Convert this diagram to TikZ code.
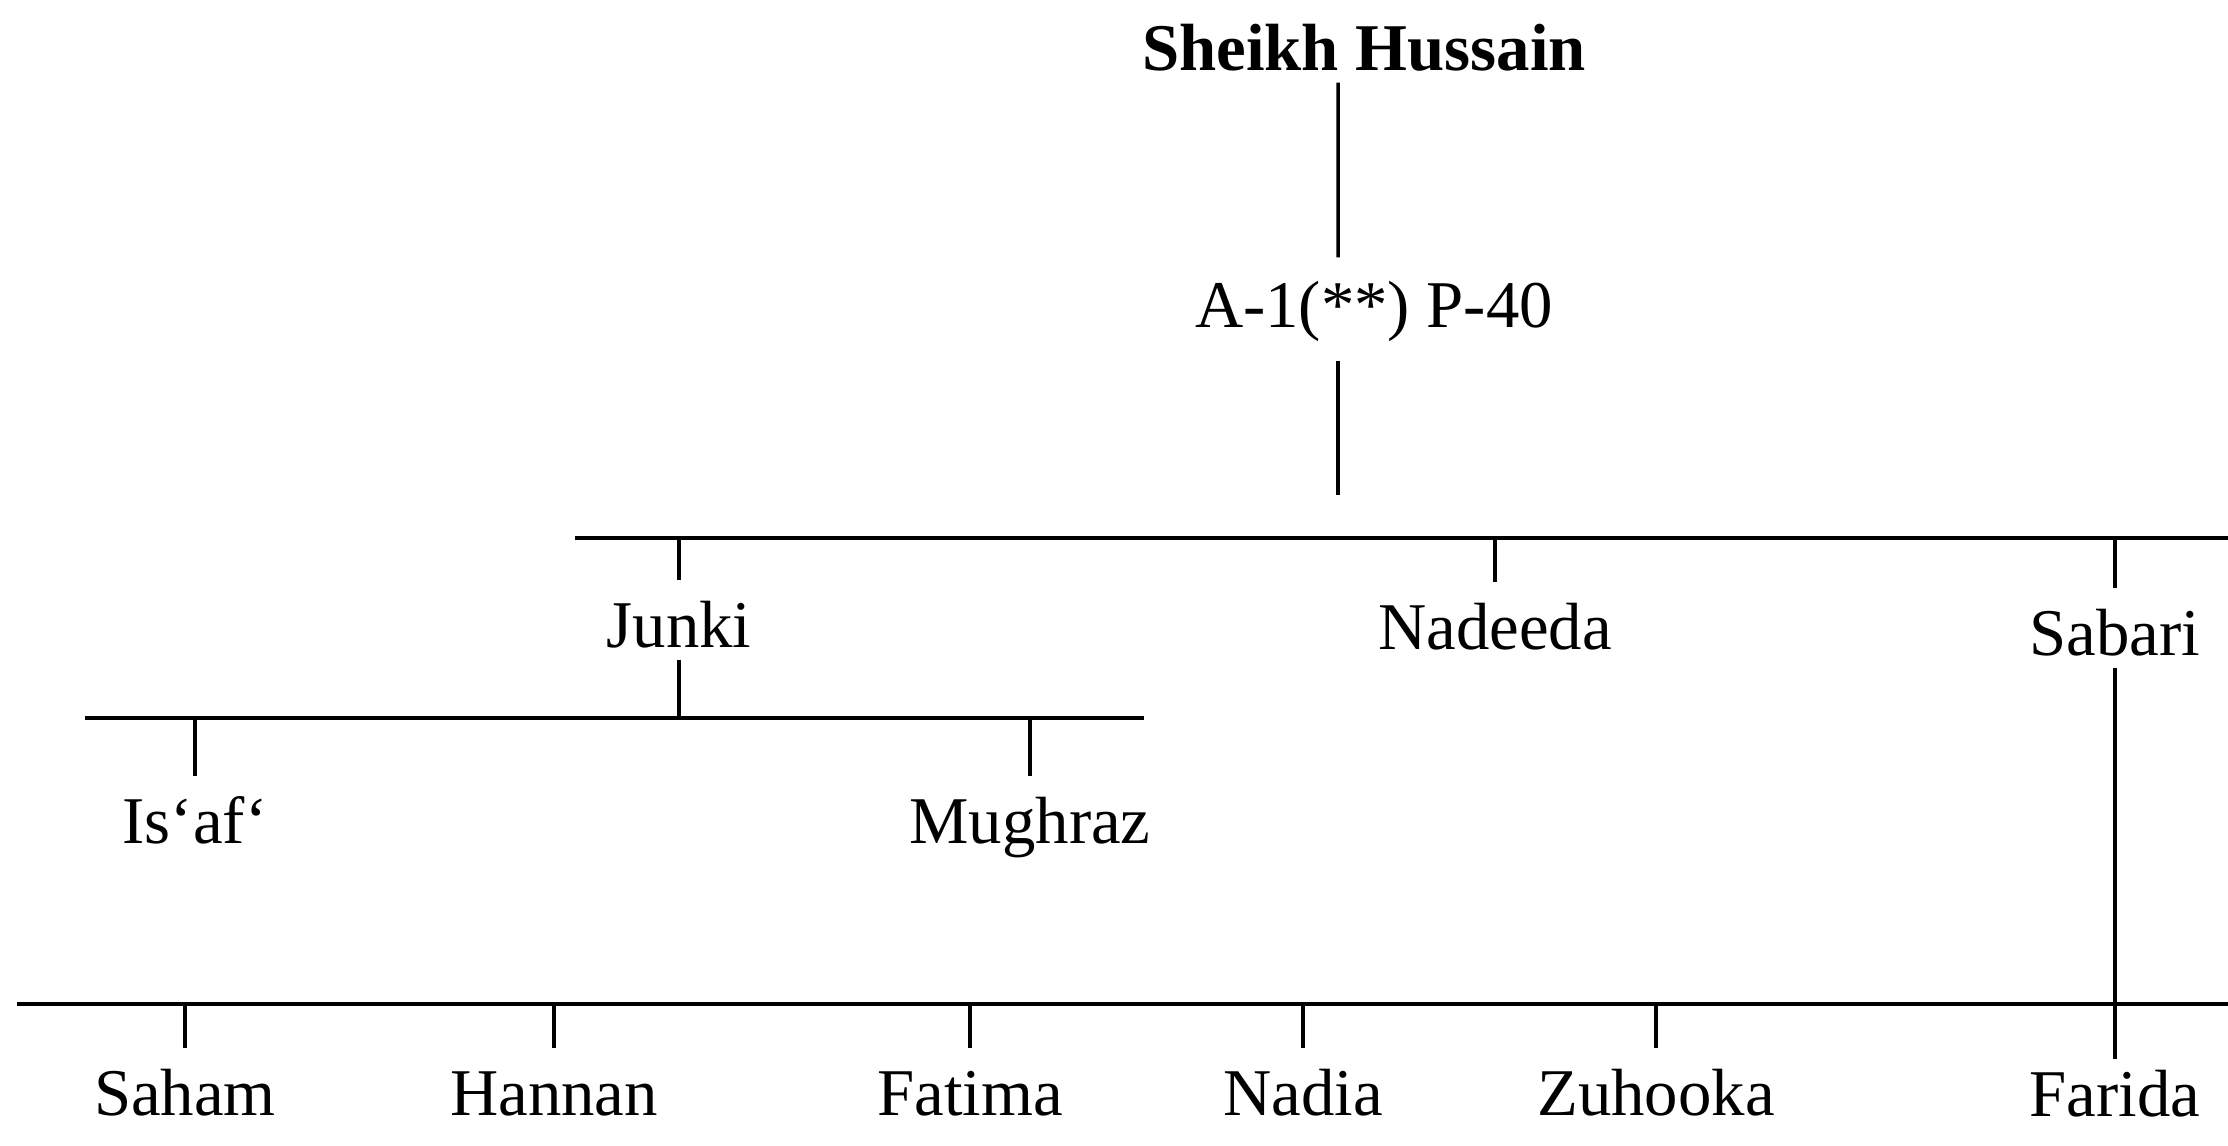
\documentclass[tikz,border=0pt]{standalone}
\usepackage{fontspec}
\setmainfont{Liberation Serif}
\usepackage{tikz}
\usetikzlibrary{positioning,calc}

\begin{document}
\begin{tikzpicture}[every node/.style={anchor=base,inner sep=0pt,text height=4.6mm,text depth=1.2mm,font=\fontsize{19}{22}\selectfont},
  bar/.style={line width=1.3pt},
  stem/.style={line width=1pt},
  tick/.style={stem,shorten >=2mm}]
\useasboundingbox (0,0) rectangle (22.28,-11.46);
\node (sheikh) at (13.64,-0.70) {\textbf{Sheikh Hussain}};
\node (ref) at (13.74,-3.27) {A-1(**) P-40};
\node (junki) at (6.79,-6.47) {Junki};
\node (nadeeda) at (14.95,-6.49) {Nadeeda};
\node (sabari) at (21.15,-6.55) {Sabari};
\node (isaf) at (1.95,-8.43) {Is`af`};
\node (mughraz) at (10.30,-8.43) {Mughraz};
\node (saham) at (1.85,-11.15) {Saham};
\node (hannan) at (5.54,-11.15) {Hannan};
\node (fatima) at (9.70,-11.15) {Fatima};
\node (nadia) at (13.03,-11.15) {Nadia};
\node (zuhooka) at (16.56,-11.15) {Zuhooka};
\node (farida) at (21.15,-11.16) {Farida};
\coordinate (drop) at (13.38,-4.95);
\coordinate (bar1w) at (5.75,-5.38); \coordinate (bar1e) at (22.28,-5.38);
\coordinate (bar2w) at (0.85,-7.18); \coordinate (bar2e) at (11.44,-7.18);
\coordinate (bar3w) at (0.17,-10.04); \coordinate (bar3e) at (22.28,-10.04);
\draw[bar] (bar1w)--(bar1e);
\draw[bar] (bar2w)--(bar2e);
\draw[bar] (bar3w)--(bar3e);
\draw[stem] ([xshift=-2.6mm]sheikh.south)--([xshift=-3.6mm,yshift=2.3mm]ref.north);
\draw[stem] ([xshift=-3.6mm,yshift=-2.1mm]ref.south)--(drop);
\foreach \kid in {junki,nadeeda,sabari} {\draw[tick] (\kid |- bar1w)--(\kid.north);}
\draw[stem] (junki.south)--(junki |- bar2w);
\foreach \kid in {isaf,mughraz} {\draw[tick] (\kid |- bar2w)--(\kid.north);}
\foreach \kid in {saham,hannan,fatima,nadia,zuhooka} {\draw[tick] (\kid |- bar3w)--(\kid.north);}
\draw[stem,shorten >=1mm] (sabari.south)--(farida.north);
\end{tikzpicture}
\end{document}
